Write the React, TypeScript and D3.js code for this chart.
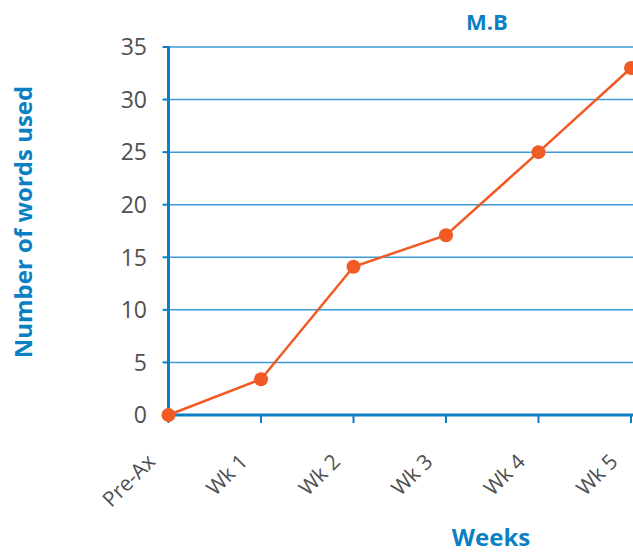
import React from "react";
import * as d3 from "d3";

const weeks = ["Pre-Ax", "Wk 1", "Wk 2", "Wk 3", "Wk 4", "Wk 5"];
const wordsUsed = [0, 3.4, 14.1, 17.1, 25, 33];
const yTicks = [0, 5, 10, 15, 20, 25, 30, 35];

const W = 633;
const H = 553;
const left = 168.5;
const right = 631;
const top = 47;
const bottom = 415;

const blue = "#0b7fc4";
const grid = "#3d9ad6";
const orange = "#f15a24";
const textGray = "#505050";
const font = "'Open Sans', 'Noto Sans', sans-serif";

export default function App() {
  const x = d3.scalePoint<string>().domain(weeks).range([left, right]);
  const y = d3.scaleLinear().domain([0, 35]).range([bottom, top]);
  const line = d3
    .line<number>()
    .x((_, i) => x(weeks[i]) as number)
    .y((d) => y(d));

  return (
    <svg
      width={W}
      height={H}
      style={{ position: "absolute", left: 0, top: 0, background: "#fff" }}
    >
      {yTicks.map((t) => (
        <g key={t}>
          {t > 0 && (
            <line x1={left} x2={W} y1={y(t)} y2={y(t)} stroke={grid} strokeWidth={1.5} />
          )}
          <line x1={left - 6} x2={left} y1={y(t)} y2={y(t)} stroke={blue} strokeWidth={2} />
          <text
            x={147}
            y={y(t)}
            dy="0.36em"
            textAnchor="end"
            fontFamily={font}
            fontSize={23}
            fill={textGray}
          >
            {t}
          </text>
        </g>
      ))}
      <line x1={left} x2={left} y1={top - 1} y2={bottom} stroke={blue} strokeWidth={3} />
      <line x1={left} x2={W} y1={bottom} y2={bottom} stroke={blue} strokeWidth={3} />
      {weeks.map((w) => {
        const px = x(w) as number;
        return (
          <g key={w}>
            <line x1={px} x2={px} y1={bottom} y2={bottom + 8} stroke={blue} strokeWidth={2} />
            <text
              transform={`translate(${px - 12},${bottom + 48}) rotate(-45)`}
              textAnchor="end"
              fontFamily={font}
              fontSize={21}
              fill={textGray}
            >
              {w}
            </text>
          </g>
        );
      })}
      <path d={line(wordsUsed) ?? ""} fill="none" stroke={orange} strokeWidth={2.5} />
      {wordsUsed.map((v, i) => (
        <circle key={i} cx={x(weeks[i]) as number} cy={y(v)} r={7} fill={orange} />
      ))}
      <text
        x={487}
        y={30}
        textAnchor="middle"
        fontFamily={font}
        fontWeight={700}
        fontSize={22}
        fill={blue}
      >
        M.B
      </text>
      <text
        x={491}
        y={546}
        textAnchor="middle"
        fontFamily={font}
        fontWeight={700}
        fontSize={24}
        fill={blue}
      >
        Weeks
      </text>
      <text
        transform={`translate(32,222) rotate(-90)`}
        textAnchor="middle"
        fontFamily={font}
        fontWeight={700}
        fontSize={24}
        fill={blue}
      >
        Number of words used
      </text>
    </svg>
  );
}
